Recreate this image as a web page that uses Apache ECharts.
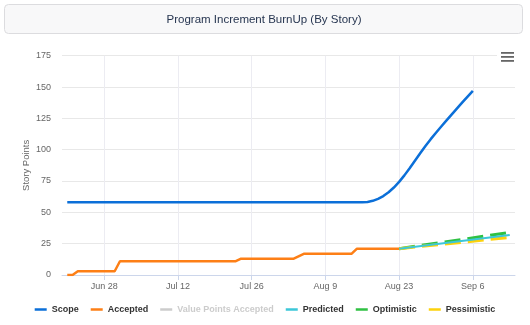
<!DOCTYPE html>
<html>
<head>
<meta charset="utf-8">
<script src="https://cdn.jsdelivr.net/npm/echarts@6/dist/echarts.min.js"></script>
<style>
html,body{margin:0;padding:0;background:#fff;}
#chart{width:530px;height:325px;}
</style>
</head>
<body>
<div id="chart"></div>
<script>
// ---- data ----
const titleText = 'Program Increment BurnUp (By Story)';
const xTickLabels = ['Jun 28', 'Jul 12', 'Jul 26', 'Aug 9', 'Aug 23', 'Sep 6'];
const yTickValues = [0, 25, 50, 75, 100, 125, 150, 175];
const axisStart = '2021-06-20';
const axisEnd = '2021-09-14';

const scope = [
  ['Jun 21', 58], ['Aug 16', 58], ['Aug 17', 58.3], ['Aug 18', 59.2], ['Aug 19', 60.8],
  ['Aug 20', 63], ['Aug 21', 66], ['Aug 22', 69.8], ['Aug 23', 74.3], ['Aug 24', 79.5],
  ['Aug 25', 85.2], ['Aug 26', 91.2], ['Aug 27', 97.2], ['Aug 28', 103], ['Aug 29', 108.4],
  ['Aug 30', 113.5], ['Aug 31', 118.5], ['Sep 1', 123.4], ['Sep 2', 128.2], ['Sep 3', 133],
  ['Sep 4', 137.7], ['Sep 5', 142.4], ['Sep 6', 147]
];
const accepted = [
  ['Jun 21', 0], ['Jun 22', 0], ['Jun 23', 3], ['Jun 30', 3], ['Jul 1', 11],
  ['Jul 23', 11], ['Jul 24', 13], ['Aug 3', 13], ['Aug 4', 15], ['Aug 5', 17],
  ['Aug 14', 17], ['Aug 15', 21], ['Aug 23', 21]
];
const valuePointsAccepted = [];
const predicted = [['Aug 23', 21], ['Sep 13', 32]];
const optimistic = [['Aug 23', 21], ['Sep 13', 34]];
const pessimistic = [['Aug 23', 21], ['Sep 13', 30]];

// ---- category axis: one entry per day ----
const monthNames = ['Jan','Feb','Mar','Apr','May','Jun','Jul','Aug','Sep','Oct','Nov','Dec'];
const categories = [];
for (let t = Date.parse(axisStart + 'T00:00:00Z'); t <= Date.parse(axisEnd + 'T00:00:00Z'); t += 86400000) {
  const d = new Date(t);
  categories.push(monthNames[d.getUTCMonth()] + ' ' + d.getUTCDate());
}
const showTick = (i, v) => xTickLabels.indexOf(categories[i]) >= 0;

const FONT = '"Liberation Sans", Arial, Helvetica, sans-serif';
const chart = echarts.init(document.getElementById('chart'), null, {renderer: 'canvas'});
chart.setOption({
  animation: false,
  backgroundColor: '#ffffff',
  textStyle: {fontFamily: FONT},
  graphic: [
    {type: 'rect', shape: {x: 4.5, y: 4.5, width: 518, height: 29, r: 4},
     style: {fill: '#f8f8f9', stroke: '#dcdcdf', lineWidth: 1}, z: 0},
    {type: 'text', x: 264, y: 19.5,
     style: {text: titleText, fill: '#263550', font: '11.5px ' + FONT, textAlign: 'center', textVerticalAlign: 'middle'}, z: 1},
    {type: 'rect', shape: {x: 497, y: 47, width: 22, height: 19}, style: {fill: '#ffffff'}, z: 10},
    {type: 'rect', shape: {x: 501, y: 52, width: 13, height: 1.8}, style: {fill: '#666666'}, z: 11},
    {type: 'rect', shape: {x: 501, y: 56, width: 13, height: 1.8}, style: {fill: '#666666'}, z: 11},
    {type: 'rect', shape: {x: 501, y: 60, width: 13, height: 1.8}, style: {fill: '#666666'}, z: 11}
  ],
  grid: {left: 62, right: 15, top: 55.7, bottom: 50, containLabel: false},
  legend: {
    left: 'center', top: 300, icon: 'rect', itemWidth: 12, itemHeight: 2.5, itemGap: 12,
    textStyle: {fontFamily: FONT, fontSize: 9, fontWeight: 'bold', color: '#333333'},
    inactiveColor: '#cccccc',
    selected: {'Value Points Accepted': false},
    data: ['Scope', 'Accepted', 'Value Points Accepted', 'Predicted', 'Optimistic', 'Pessimistic']
  },
  xAxis: {
    type: 'category', data: categories, boundaryGap: false,
    axisLine: {lineStyle: {color: '#ccd6eb', width: 1}},
    axisTick: {show: true, interval: showTick, length: 5, lineStyle: {color: '#ccd6eb'}},
    axisLabel: {interval: showTick, color: '#666666', fontSize: 9, margin: 7, fontFamily: FONT},
    splitLine: {show: true, interval: showTick, lineStyle: {color: '#ececf2', width: 1}}
  },
  yAxis: {
    type: 'value', min: yTickValues[0], max: yTickValues[yTickValues.length - 1], interval: 25,
    name: 'Story Points', nameLocation: 'middle', nameGap: 31, nameMoveOverlap: false,
    nameTextStyle: {color: '#666666', fontSize: 9.5, fontFamily: FONT},
    axisLine: {show: false}, axisTick: {show: false},
    axisLabel: {color: '#666666', fontSize: 9, margin: 11, fontFamily: FONT},
    splitLine: {lineStyle: {color: '#e8e8e8', width: 1}}
  },
  series: [
    {name: 'Scope', type: 'line', data: scope, showSymbol: false, symbol: 'none',
     smooth: false,
     color: '#0b6fd8', lineStyle: {width: 2.5, color: '#0b6fd8', join: 'round'}, z: 3},
    {name: 'Accepted', type: 'line', data: accepted, showSymbol: false, symbol: 'none',
     color: '#fd7f16', lineStyle: {width: 2.5, color: '#fd7f16'}, z: 3},
    {name: 'Value Points Accepted', type: 'line', data: valuePointsAccepted, symbol: 'none',
     color: '#aaaaaa', lineStyle: {width: 2.5}},
    {name: 'Predicted', type: 'line', data: predicted, symbol: 'none',
     color: '#3cc7d8', lineStyle: {width: 2, color: '#3cc7d8'}, z: 6},
    {name: 'Optimistic', type: 'line', data: optimistic, symbol: 'none',
     color: '#2fc143', lineStyle: {width: 3, color: '#2fc143', type: [16, 7]}, z: 4},
    {name: 'Pessimistic', type: 'line', data: pessimistic, symbol: 'none',
     color: '#fdd20c', lineStyle: {width: 3, color: '#fdd20c', type: [16, 7]}, z: 4}
  ]
});
</script>
</body>
</html>
